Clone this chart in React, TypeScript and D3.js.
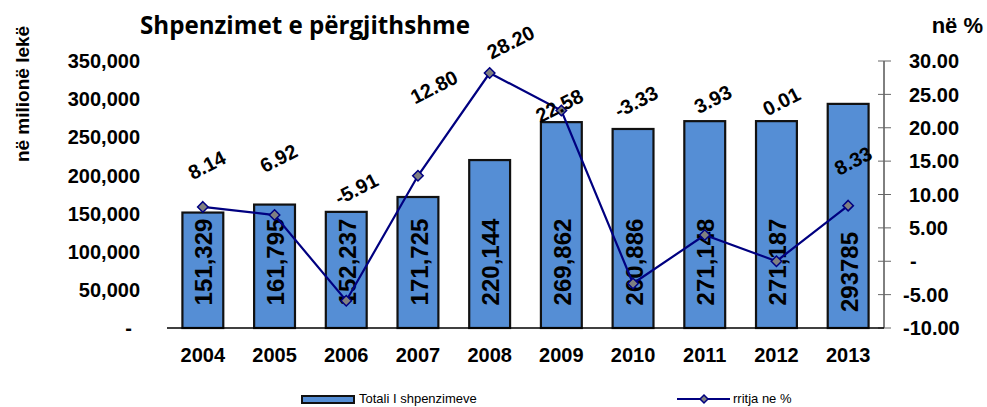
import React from 'react';
import * as d3 from 'd3';

// data
const years = ['2004', '2005', '2006', '2007', '2008', '2009', '2010', '2011', '2012', '2013'];
const totals = [151329, 161795, 152237, 171725, 220144, 269862, 260886, 271148, 271187, 293785];
const totalLabels = ['151,329', '161,795', '152,237', '171,725', '220,144', '269,862', '260,886', '271,148', '271,187', '293785'];
const growth = [8.14, 6.92, -5.91, 12.8, 28.2, 22.58, -3.33, 3.93, 0.01, 8.33];
const leftTicks = [0, 50000, 100000, 150000, 200000, 250000, 300000, 350000];
const rightTicks = [-10, -5, 0, 5, 10, 15, 20, 25, 30];

// hand-placed label offsets (the source chart had them dragged around)
const labelDx = [4, 4, 10, 16, 21, -2, 3, 8, 5, 5];
const labelDy = [-42, -57, -112, -89, -31, -5, -182, -136, -160, -45];

const W = 987;
const H = 407;
const margin = { top: 61, right: 103, bottom: 79, left: 167 };
const FONT = 'Liberation Sans, Arial, sans-serif';
const NARROW = 'Liberation Sans Narrow, Arial Narrow, sans-serif';

const hyphen = (s: string) => s.replace('\u2212', '-');

const App = () => {
  const x = d3.scaleBand<string>()
    .domain(years)
    .range([margin.left, W - margin.right])
    .paddingInner(0.43)
    .paddingOuter(0.215);
  const yL = d3.scaleLinear().domain([0, 350000]).range([H - margin.bottom, margin.top]);
  const yR = d3.scaleLinear().domain([-10, 30]).range([H - margin.bottom, margin.top]);

  const fmtL = (d: number) => (d === 0 ? '-' : d3.format(',')(d));
  const fmtR = (d: number) => (d === 0 ? '-' : hyphen(d3.format('.2f')(d)));

  const cx = (i: number) => (x(years[i]) as number) + x.bandwidth() / 2;
  const line = d3.line<number>()
    .x((_, i) => cx(i))
    .y(d => yR(d));

  const diamond = d3.symbol().type(d3.symbolDiamond2).size(70)();
  const base = yL(0);
  const rx = W - margin.right;

  return (
    <svg width={W} height={H} style={{ position: 'absolute', left: 0, top: 0, background: '#fff' }} fontFamily={FONT}>
      {/* title */}
      <text x={305} y={34} textAnchor="middle" fontFamily="Open Sans, Noto Sans, sans-serif" fontWeight={700} fontSize={25} textLength={330} lengthAdjust="spacingAndGlyphs">
        Shpenzimet e përgjithshme
      </text>
      <text x={983} y={33} textAnchor="end" fontWeight={700} fontSize={22}>në %</text>
      <text transform={`translate(29,94) rotate(-90)`} textAnchor="middle" fontWeight={700} fontSize={19}>
        në milionë lekë
      </text>

      {/* left axis labels */}
      {leftTicks.map(t => (
        <text key={t} x={140} dx={t === 0 ? -8 : 0} y={yL(t)} dy="0.36em" textAnchor="end" fontWeight={700} fontSize={20}>
          {fmtL(t)}
        </text>
      ))}

      {/* right axis */}
      <line x1={rx} x2={rx} y1={yR(30)} y2={yR(-10)} stroke="#000" strokeWidth={1} />
      {rightTicks.map(t => (
        <g key={t}>
          <line x1={rx - 6} x2={rx + 7} y1={yR(t)} y2={yR(t)} stroke="#666" strokeWidth={1} />
          <text x={t < 0 ? 903 : 909} dx={t === 0 ? 1 : 0} y={yR(t)} dy="0.36em" fontWeight={700} fontSize={20}>
            {fmtR(t)}
          </text>
        </g>
      ))}

      {/* bars */}
      {totals.map((v, i) => (
        <rect key={years[i]} x={x(years[i])} y={yL(v)} width={x.bandwidth()} height={base - yL(v)}
          fill="#558ed5" stroke="#111" strokeWidth={2.2} />
      ))}
      <line x1={margin.left} x2={rx} y1={base} y2={base} stroke="#000" strokeWidth={1.3} />

      {/* bar value labels */}
      {totalLabels.map((s, i) => (
        <text key={s + i} transform={`translate(${cx(i) + 1},${i === 9 ? 272 : 262}) rotate(-90)`} textAnchor="middle"
          dy="0.36em" fontWeight={700} fontSize={24}>
          {s}
        </text>
      ))}

      {/* year labels */}
      {years.map((yr, i) => (
        <text key={yr} x={cx(i)} y={355} dy="0.36em" textAnchor="middle" fontWeight={700} fontSize={20}>{yr}</text>
      ))}

      {/* growth line */}
      <path d={line(growth) ?? ''} fill="none" stroke="#000080" strokeWidth={2.2} />
      {growth.map((v, i) => (
        <path key={i} d={diamond ?? ''} transform={`translate(${cx(i)},${yR(v)})`} fill="#808080" stroke="#000080" strokeWidth={1.5} />
      ))}
      {growth.map((v, i) => (
        <text key={i} transform={`translate(${cx(i) + labelDx[i]},${yR(v) + labelDy[i]}) rotate(-27)`} textAnchor="middle"
          dy="0.36em" fontWeight={700} fontSize={20}>
          {hyphen(d3.format('.2f')(v))}
        </text>
      ))}

      {/* legend */}
      <rect x={302} y={396} width={52} height={7} fill="#558ed5" stroke="#111" strokeWidth={2} />
      <text x={359} y={399} dy="0.33em" fontFamily={NARROW} fontSize={13}>
        Totali I shpenzimeve
      </text>
      <line x1={677} x2={730} y1={399} y2={399} stroke="#000080" strokeWidth={2.2} />
      <path d={d3.symbol().type(d3.symbolDiamond2).size(40)() ?? ''} transform="translate(704,399)" fill="#808080" stroke="#000080" strokeWidth={1.5} />
      <text x={733} y={399} dy="0.33em" fontFamily={NARROW} fontSize={13}>
        rritja ne %
      </text>
    </svg>
  );
};

export default App;
